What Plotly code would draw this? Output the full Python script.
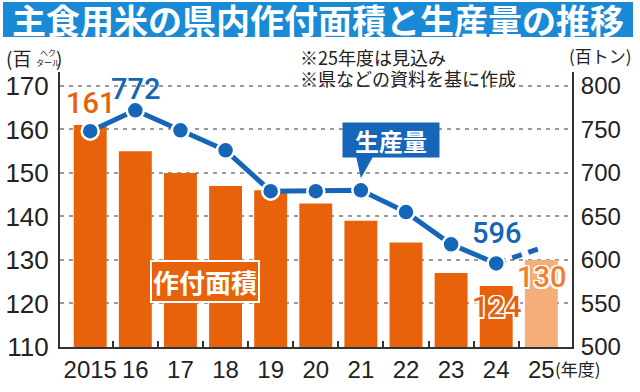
import plotly.graph_objects as go

years = ["2015", "16", "17", "18", "19", "20", "21", "22", "23", "24", "25"]
area = [161, 155, 150, 147, 146, 143, 139, 134, 127, 124, 130]          # 百ha
production = [748, 772, 749, 726, 679, 679, 680, 655, 618, 596, 614]   # 百トン
left_ticks = [110, 120, 130, 140, 150, 160, 170]
right_ticks = [500, 550, 600, 650, 700, 750, 800]

ORANGE = "#e8620c"
ORANGE_LIGHT = "#f5ad7a"
BLUE = "#1565b8"
TITLE_BLUE = "#1a8ad6"
CJK = "Noto Sans CJK JP"
NUM = "Liberation Sans"
LBL = "Roboto"

xs = list(range(len(years)))
bar_colors = [ORANGE] * (len(years) - 1) + [ORANGE_LIGHT]


def px(xp):
    return (xp - 60) / 512


def py(yp):
    return (347 - yp) / 275


fig = go.Figure()
fig.add_trace(go.Bar(x=xs, y=area, marker=dict(color=bar_colors, line=dict(width=0)),
                     width=0.73, yaxis="y", showlegend=False, hoverinfo="skip"))
# dashed projection segment (last two points)
fig.add_trace(go.Scatter(x=xs[-2:], y=production[-2:], yaxis="y2", mode="lines",
                         line=dict(color=BLUE, width=5, dash="10px,7px"),
                         showlegend=False, hoverinfo="skip"))
fig.add_trace(go.Scatter(x=xs[:-1], y=production[:-1], yaxis="y2", mode="lines+markers",
                         line=dict(color=BLUE, width=5),
                         marker=dict(size=17, color=BLUE, line=dict(color="white", width=2.5)),
                         showlegend=False, hoverinfo="skip"))

shadow = "1.5px 1.5px 0 #fff, -1.5px -1.5px 0 #fff, 1.5px -1.5px 0 #fff, -1.5px 1.5px 0 #fff, 0 1.5px 0 #fff, 0 -1.5px 0 #fff, 1.5px 0 0 #fff, -1.5px 0 0 #fff"

ann = []
# value labels
ann.append(dict(x=0, y=area[0], xref="x", yref="y", text=str(area[0]), showarrow=False,
                yshift=22, font=dict(family=LBL, size=29, color=ORANGE, weight=500)))
ann.append(dict(x=1, y=production[1], xref="x", yref="y2", text=str(production[1]), showarrow=False,
                yshift=21, font=dict(family=LBL, size=29, color=BLUE, weight=500)))
ann.append(dict(x=9, y=production[9], xref="x", yref="y2", text=str(production[9]), showarrow=False,
                yshift=30, font=dict(family=LBL, size=29, color=BLUE, weight=500)))
ann.append(dict(x=9, y=area[9], xref="x", yref="y", text=str(area[9]), showarrow=False,
                yshift=-21, font=dict(family=LBL, size=29, color=ORANGE, shadow=shadow, weight=500)))
ann.append(dict(x=10, y=area[10], xref="x", yref="y", text=str(area[10]), showarrow=False,
                yshift=-17, font=dict(family=LBL, size=29, color="#f08030", shadow=shadow, weight=500)))
# series callouts
ann.append(dict(x=6, y=production[6], xref="x", yref="y2", text="<b>生産量</b>", showarrow=False,
                xshift=30, yshift=50, bgcolor=BLUE, borderpad=2, width=92, height=30,
                font=dict(family=CJK, size=24, color="white")))
ann.append(dict(x=px(205), y=py(281), xref="paper", yref="paper",
                xanchor="center", yanchor="middle",
                text="<b>作付面積</b>", showarrow=False, bgcolor=ORANGE, bordercolor="white",
                borderwidth=2, borderpad=1, font=dict(family=CJK, size=26, color="white")))
# title text (background bar is a shape)
ann.append(dict(x=px(318), y=py(19.5), xref="paper", yref="paper",
                xanchor="center", yanchor="middle",
                text="<b>主食用米の県内作付面積と生産量の推移</b>", showarrow=False,
                font=dict(family=CJK, size=34, color="white")))
# notes
ann.append(dict(x=px(298), y=py(57), xref="paper", yref="paper",
                xanchor="left", yanchor="middle", text="※25年度は見込み", showarrow=False,
                font=dict(family=CJK, size=18, color="#222")))
ann.append(dict(x=px(298), y=py(78), xref="paper", yref="paper",
                xanchor="left", yanchor="middle", text="※県などの資料を基に作成", showarrow=False,
                font=dict(family=CJK, size=18, color="#222")))
# axis unit labels
ann.append(dict(x=px(4), y=py(57), xref="paper", yref="paper",
                xanchor="left", yanchor="middle", text="(百", showarrow=False,
                font=dict(family=CJK, size=19, color="#222")))
ann.append(dict(x=px(34), y=py(58), xref="paper", yref="paper",
                xanchor="left", yanchor="middle", text="ヘク<br>タール", showarrow=False,
                font=dict(family=CJK, size=8, color="#222")))
ann.append(dict(x=px(54), y=py(57), xref="paper", yref="paper",
                xanchor="left", yanchor="middle", text=")", showarrow=False,
                font=dict(family=CJK, size=19, color="#222")))
ann.append(dict(x=px(567), y=py(55), xref="paper", yref="paper",
                xanchor="left", yanchor="middle", text="(百トン)", showarrow=False,
                font=dict(family=CJK, size=17, color="#222")))
ann.append(dict(x=px(553), y=py(368), xref="paper", yref="paper",
                xanchor="left", yanchor="middle", text="(年度)", showarrow=False,
                font=dict(family=CJK, size=17, color="#222")))

shapes = [
    dict(type="rect", xref="paper", yref="paper", x0=px(3), x1=px(633), y0=py(37), y1=py(2),
         fillcolor=TITLE_BLUE, line=dict(width=0), layer="below"),
    dict(type="path", xref="x", yref="y2", xsizemode="pixel", ysizemode="pixel",
         xanchor=6, yanchor=production[6], path="M -5 35 L 13 35 L 0 12 Z",
         fillcolor=BLUE, line=dict(width=0)),
]

fig.update_layout(
    width=640, height=392,
    margin=dict(l=60, r=68, t=72, b=45, autoexpand=False),
    paper_bgcolor="white", plot_bgcolor="white",
    bargap=0.27,
    annotations=ann, shapes=shapes,
    xaxis=dict(range=[-0.67, 10.68], tickmode="array", tickvals=xs, ticktext=years,
               automargin=False,
               ticks="", showgrid=False, zeroline=False, showline=True, linecolor="#333",
               linewidth=2, tickfont=dict(family=NUM, size=24, color="#222"),
               minor=dict(tickvals=[i + 0.5 for i in xs[:-1]], ticks="inside", ticklen=6,
                          tickwidth=2, tickcolor="#333", showgrid=False)),
    yaxis=dict(range=[110, 173.2], tickvals=left_ticks, showline=True, linecolor="#333",
               automargin=False,
               linewidth=2, ticks="", showgrid=True, gridcolor="#9a9a9a", griddash="4px,5px",
               gridwidth=1.5, zeroline=False, tickfont=dict(family=NUM, size=26, color="#222"),
               ticklabelstandoff=4),
    yaxis2=dict(range=[500, 816], tickvals=right_ticks, overlaying="y", side="right",
                automargin=False,
                showline=True, linecolor="#333", linewidth=2, ticks="", showgrid=False,
                zeroline=False, tickfont=dict(family=NUM, size=24, color="#222"),
                ticklabelstandoff=2),
)

fig.write_html("out.html", config={"displayModeBar": False},
               post_script="document.body.style.margin='0';document.body.style.overflow='hidden';")
